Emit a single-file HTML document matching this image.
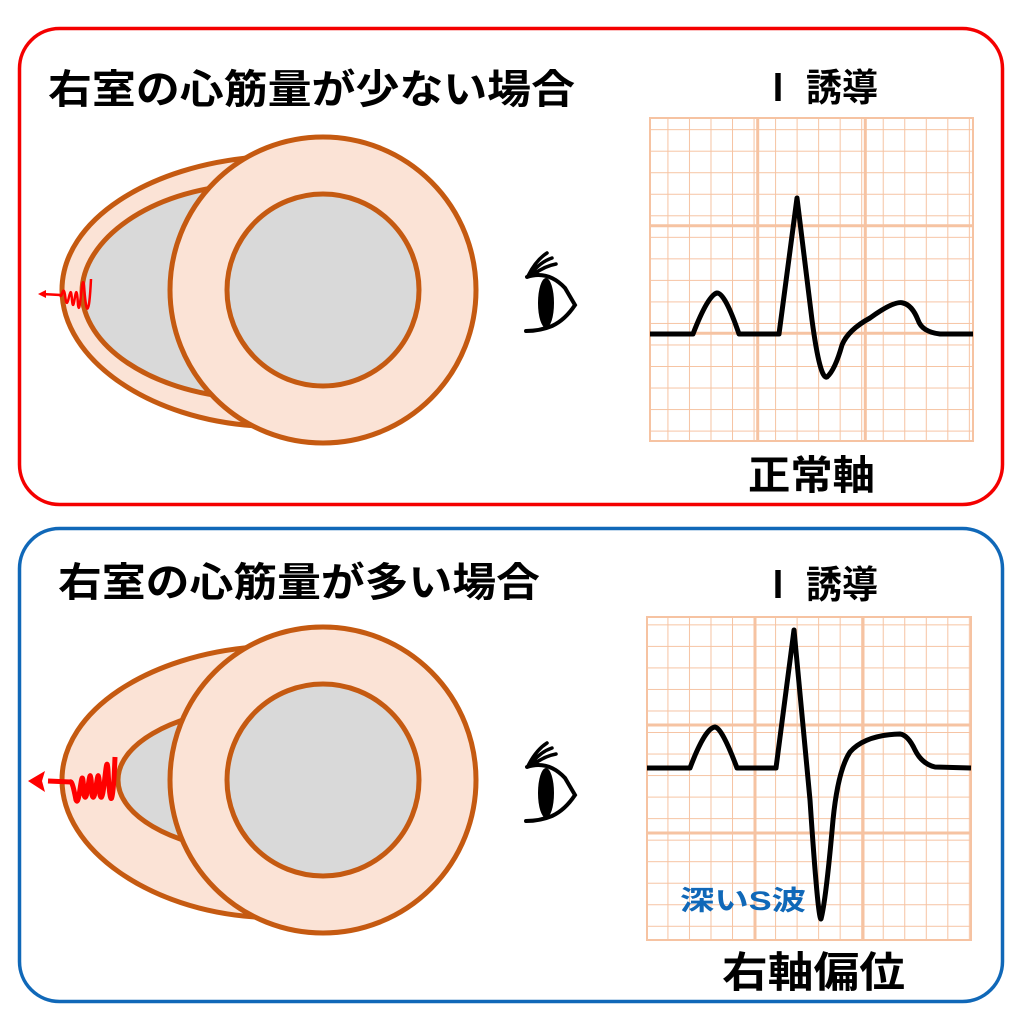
<!DOCTYPE html>
<html><head><meta charset="utf-8"><style>
body{margin:0;width:1020px;height:1024px;background:#fff;overflow:hidden}
svg{display:block}
text{font-family:"Liberation Sans","Noto Sans CJK JP",sans-serif;font-weight:bold}
</style></head><body>
<svg width="1020" height="1024" viewBox="0 0 1020 1024">
<defs>
<pattern id="g" x="0" y="0" width="21.53" height="21.53" patternUnits="userSpaceOnUse">
<path d="M0 0H21.53M0 0V21.53" stroke="#f6c3a2" stroke-width="2" fill="none"/>
</pattern>
<g id="eye">
<path d="M527 277 Q548 270 565 288 L575 305 Q565 320 552 326 Q540 331 526 331" fill="none" stroke="#000" stroke-width="4" stroke-linecap="round"/>
<ellipse cx="546" cy="303" rx="8" ry="25" fill="#000"/>
<path d="M528 276 Q536 260 547 253 M531 274 Q540 262 552 258 M534 274 Q545 266 556 264" fill="none" stroke="#000" stroke-width="3.5" stroke-linecap="round"/>
</g>
</defs>
<rect x="19.5" y="28.5" width="983" height="476" rx="40" fill="none" stroke="#f40000" stroke-width="3.5"/>
<rect x="19.5" y="528.5" width="983" height="473" rx="40" fill="none" stroke="#1068b8" stroke-width="3.5"/>

<text x="48" y="103" font-size="40" textLength="527" lengthAdjust="spacingAndGlyphs">右室の心筋量が少ない場合</text>
<text x="760" y="101" font-size="38" textLength="118" lengthAdjust="spacingAndGlyphs">Ⅰ 誘導</text>
<text x="748" y="489" font-size="40" textLength="127" lengthAdjust="spacingAndGlyphs">正常軸</text>
<text x="58" y="596" font-size="40" textLength="482" lengthAdjust="spacingAndGlyphs">右室の心筋量が多い場合</text>
<text x="760" y="598" font-size="38" textLength="118" lengthAdjust="spacingAndGlyphs">Ⅰ 誘導</text>
<text x="722" y="987" font-size="42" textLength="183" lengthAdjust="spacingAndGlyphs">右軸偏位</text>

<!-- top heart -->
<path d="M258 157 C150 165 62 220 62 290 C62 360 150 420 258 426 Z" fill="#fbe3d6" stroke="#c55a11" stroke-width="5"/>
<path d="M240 185 C150 190 82 240 82 292 C82 345 150 392 240 398 Z" fill="#d9d9d9" stroke="#c55a11" stroke-width="5"/>
<circle cx="323" cy="290" r="153" fill="#fbe3d6" stroke="#c55a11" stroke-width="5"/>
<circle cx="323" cy="290" r="96" fill="#d9d9d9" stroke="#c55a11" stroke-width="5"/>
<path d="M91 279 C89 320 86 315 84 285 C82 270 80 320 78 305 C76 270 74 320 72 300 C70 275 68 320 65 295 C63 283 62 300 60 295 L42 294" fill="none" stroke="#f00" stroke-width="2.5"/>
<path d="M38 294 L46 290 L46 298 Z" fill="#f00"/>
<use href="#eye"/>

<!-- bottom heart -->
<path d="M255 647 C150 655 62 710 62 780 C62 850 150 910 255 917 Z" fill="#fbe3d6" stroke="#c55a11" stroke-width="5"/>
<path d="M240 708 C170 715 118 745 118 780 C118 815 170 845 240 852 Z" fill="#d9d9d9" stroke="#c55a11" stroke-width="5"/>
<circle cx="323" cy="780" r="153" fill="#fbe3d6" stroke="#c55a11" stroke-width="5"/>
<circle cx="323" cy="780" r="96" fill="#d9d9d9" stroke="#c55a11" stroke-width="5"/>
<path d="M115 757 C113 810 110 810 108 770 C106 745 104 810 100 795 C98 745 96 810 92 795 C90 745 88 810 84 795 C82 750 80 810 76 800 C74 790 72 780 70 782 L48 781" fill="none" stroke="#f00" stroke-width="5"/>
<path d="M28 781 L45 771 L42 781 L45 792 Z" fill="#f00"/>
<use href="#eye" transform="translate(0,490)"/>

<!-- top ECG -->
<rect x="650" y="118" width="323" height="323" fill="url(#g)"/>
<rect x="650" y="118" width="323" height="323" fill="none" stroke="#f6c3a2" stroke-width="2"/>
<path d="M757.7 118V441M865.3 118V441M650 225.7H973M650 333.3H973" stroke="#f6c3a2" stroke-width="3"/>
<path d="M650 334 L693 334 Q708 295 717 293 Q725 293 739 334 L779 334 L797 198 L812 320 Q820 380 827 377 Q835 370 842 345 Q848 330 870 318 Q895 300 903 303 Q912 305 918 320 Q922 332 940 334 L973 334" fill="none" stroke="#000" stroke-width="5" stroke-linejoin="round"/>

<!-- bottom ECG -->
<rect x="647" y="617" width="324" height="323" fill="url(#g)"/>
<rect x="647" y="617" width="324" height="323" fill="none" stroke="#f6c3a2" stroke-width="2"/>
<path d="M755 617V940M863 617V940M647 725H971M647 833H971" stroke="#f6c3a2" stroke-width="3"/>
<path d="M647 768 L690 768 Q705 728 715 727 Q722 728 737 768 L776 768 L794 630 L810 800 Q818 920 821 919 Q826 900 833 820 Q838 770 850 752 Q865 735 900 734 Q908 735 915 750 Q922 764 935 767 L971 768" fill="none" stroke="#000" stroke-width="5" stroke-linejoin="round"/>
<text x="680" y="910" font-size="27" fill="#1068b8" textLength="126" lengthAdjust="spacingAndGlyphs">深いS波</text>
</svg>
</body></html>
